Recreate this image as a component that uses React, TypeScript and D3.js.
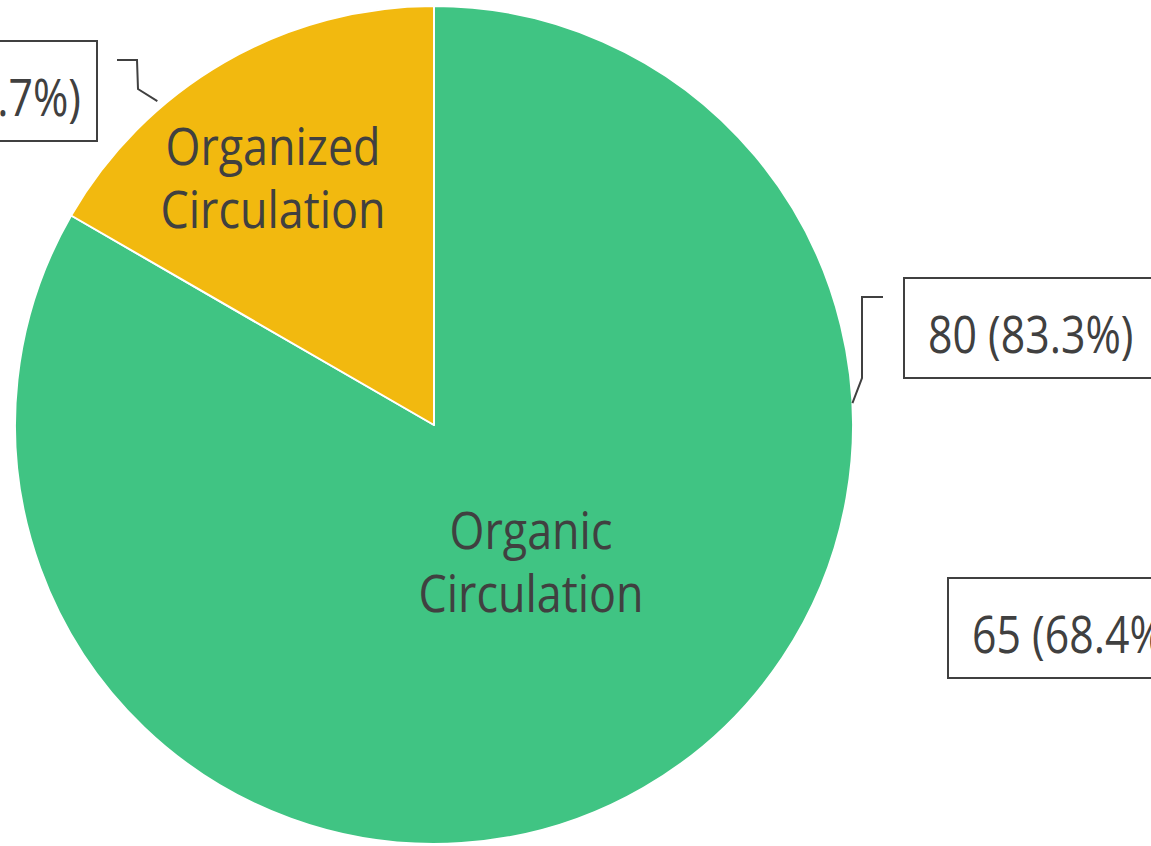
import React, { useEffect, useRef } from 'react';
import * as d3 from 'd3';

// slice data
const categories = ['Organic Circulation', 'Organized Circulation'];
const values = [80, 16];
const labelLines = [['Organic', 'Circulation'], ['Organized', 'Circulation']];
const colors = ['#40C483', '#F2B90F'];

// stray data label left over in the source picture (no slice of its own)
const strayValues = [65];
const strayPercents = [68.4];

const W = 1151;
const H = 846;
const CX = 434;
const CY = 425;
const R = 419;
const FONT = '"Open Sans", "Noto Sans", sans-serif';
const TEXT = '#404040';

export default function App() {
  const svgRef = useRef<SVGSVGElement>(null);

  useEffect(() => {
    if (!svgRef.current) return;
    const svg = d3.select(svgRef.current);
    svg.selectAll('*').remove();

    const total = d3.sum(values);
    const pie = d3.pie<number>().sort(null).value(d => d);
    const arcs = pie(values);
    const arc = d3.arc<d3.PieArcDatum<number>>().innerRadius(0).outerRadius(R);

    const g = svg.append('g').attr('transform', `translate(${CX},${CY})`);

    g.selectAll('path')
      .data(arcs)
      .join('path')
      .attr('d', arc)
      .attr('fill', (_, i) => colors[i])
      .attr('stroke', '#ffffff')
      .attr('stroke-width', 2)
      .attr('stroke-linejoin', 'round');

    const squeezedText = (
      parent: d3.Selection<SVGGElement, unknown, null, undefined>,
      x: number,
      y: number,
      txt: string,
      anchor: string,
      squeeze: number
    ) =>
      parent.append('text')
        .attr('transform', `translate(${x},${y}) scale(${squeeze},1)`)
        .attr('text-anchor', anchor)
        .attr('font-family', FONT)
        .attr('font-size', 51)
        .attr('fill', TEXT)
        .text(txt);

    // category labels inside the slices
    const catPos = [
      { x: 531, y: 549 },
      { x: 273, y: 165 },
    ];
    const labels = svg.append('g');
    categories.forEach((_, i) => {
      labelLines[i].forEach((line, j) => {
        squeezedText(labels, catPos[i].x, catPos[i].y + j * 63, line, 'middle', 0.88);
      });
    });

    // boxed value labels
    const boxW = 251;
    const boxH = 100;
    const boxes = [
      { x: 904, y: 278, v: values[0], p: (values[0] / total) * 100, anchor: 'start' },
      { x: 97 - boxW, y: 41, v: values[1], p: (values[1] / total) * 100, anchor: 'end' },
      { x: 948, y: 578, v: strayValues[0], p: strayPercents[0], anchor: 'start' },
    ];
    const boxG = svg.append('g');
    boxes.forEach(b => {
      boxG.append('rect')
        .attr('x', b.x)
        .attr('y', b.y)
        .attr('width', boxW)
        .attr('height', boxH)
        .attr('fill', '#ffffff')
        .attr('stroke', TEXT)
        .attr('stroke-width', 2);
      const tx = b.anchor === 'start' ? b.x + 24 : b.x + boxW - 16;
      squeezedText(boxG, tx, b.y + 75, `${b.v} (${b.p.toFixed(1)}%)`, b.anchor, 0.84);
    });

    // leader lines
    const edge = (a: number, r: number): [number, number] => [
      CX + r * Math.sin(a),
      CY - r * Math.cos(a),
    ];
    const organicEdge = edge((87 * Math.PI) / 180, R);
    const organizedEdge = edge((-40.5 * Math.PI) / 180, R + 7);
    const leaders: [number, number][][] = [
      [organicEdge, [862, 378], [862, 297], [883, 297]],
      [organizedEdge, [138, 89], [137, 60], [117, 60]],
    ];
    svg.append('g')
      .selectAll('path')
      .data(leaders)
      .join('path')
      .attr('d', d => d3.line()(d))
      .attr('fill', 'none')
      .attr('stroke', TEXT)
      .attr('stroke-width', 2);
  }, []);

  return (
    <svg
      ref={svgRef}
      width={W}
      height={H}
      style={{ position: 'absolute', left: 0, top: 0, background: '#ffffff' }}
    />
  );
}
